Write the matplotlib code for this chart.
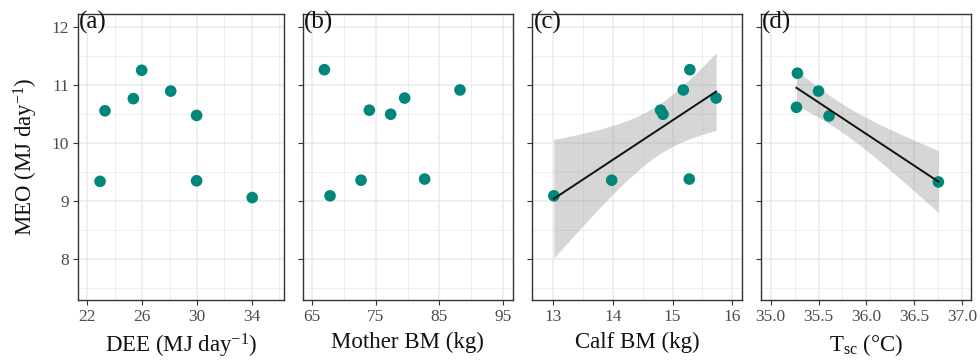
import numpy as np
import matplotlib
matplotlib.use('Agg')
import matplotlib.pyplot as plt
from matplotlib.ticker import MultipleLocator

# Fonte serifada (estilo Times) para todo o texto
plt.rcParams['font.family'] = ['Liberation Serif', 'DejaVu Serif']
plt.rcParams['mathtext.fontset'] = 'custom'
plt.rcParams['mathtext.rm'] = 'Liberation Serif'
plt.rcParams['mathtext.it'] = 'Liberation Serif:italic'

# Dados: MEO (MJ/dia) contra cada preditor
dee = [22.93, 23.29, 25.36, 25.97, 28.09, 29.98, 29.98, 34.04]
meo_dee = [9.34, 10.56, 10.77, 11.26, 10.90, 10.48, 9.35, 9.06]

mother_bm = [66.98, 67.87, 72.72, 74.02, 77.36, 79.55, 82.68, 88.21]
meo_mother = [11.27, 9.09, 9.36, 10.57, 10.50, 10.78, 9.38, 10.92]

calf_bm = [13.01, 13.98, 14.80, 14.84, 15.18, 15.29, 15.28, 15.73]
meo_calf = [9.09, 9.36, 10.57, 10.50, 10.92, 11.27, 9.38, 10.78]

tsc = [35.28, 35.27, 35.50, 35.61, 36.75]
meo_tsc = [11.21, 10.62, 10.90, 10.47, 9.33]

# Quantil normal para a banda de 95%
z = 1.96

cor_ponto = '#00877A'


def ajustar_lm(x, y):
    """Ajuste linear com banda de confiança de 95% da média."""
    x = np.asarray(x)
    y = np.asarray(y)
    n = len(x)
    b1, b0 = np.polyfit(x, y, 1)
    resid = y - (b0 + b1 * x)
    s = np.sqrt(np.sum(resid ** 2) / (n - 2))
    sxx = np.sum((x - x.mean()) ** 2)
    xs = np.linspace(x.min(), x.max(), 100)
    yhat = b0 + b1 * xs
    se = s * np.sqrt(1 / n + (xs - x.mean()) ** 2 / sxx)
    return xs, yhat, yhat - z * se, yhat + z * se


def estilo_painel(ax, xlim, xmaior, xoff, xmenor, xfmt):
    ax.set_xlim(*xlim)
    ax.set_ylim(7.29, 12.23)
    ax.xaxis.set_major_locator(MultipleLocator(xmaior, offset=xoff))
    ax.xaxis.set_minor_locator(MultipleLocator(xmenor, offset=xoff))
    ax.yaxis.set_major_locator(MultipleLocator(1))
    ax.yaxis.set_minor_locator(MultipleLocator(0.5))
    ax.xaxis.set_major_formatter(xfmt)
    ax.grid(which='major', color='#EBEBEB', lw=1.1, zorder=0)
    ax.grid(which='minor', color='#EBEBEB', lw=0.6, zorder=0)
    ax.set_axisbelow(True)
    for sp in ax.spines.values():
        sp.set_color('#333333')
        sp.set_linewidth(1.0)
    ax.tick_params(which='major', length=3.5, width=0.8, color='#333333',
                   labelcolor='#4D4D4D', labelsize=12.5, pad=3)
    ax.tick_params(which='minor', length=0)


fig = plt.figure(figsize=(9.8, 3.6), dpi=100)
base, altura = 0.1667, 0.794
posicoes = [(0.0796, 0.2102), (0.3089, 0.2143), (0.5432, 0.2137), (0.7765, 0.2143)]
axs = [fig.add_axes([l, base, w, altura]) for l, w in posicoes]

paineis = [
    (dee, meo_dee, (21.32, 36.36), 4, 2, 2, '{x:.0f}', r'DEE (MJ day$^{-1}$)', False),
    (mother_bm, meo_mother, (63.59, 96.47), 10, 5, 5, '{x:.0f}', 'Mother BM (kg)', False),
    (calf_bm, meo_calf, (12.65, 16.16), 1, 0, 0.5, '{x:.0f}', 'Calf BM (kg)', True),
    (tsc, meo_tsc, (34.90, 37.09), 0.5, 0, 0.25, '{x:.1f}', r'T$_{\rm sc}$ (°C)', True),
]
letras = ['(a)', '(b)', '(c)', '(d)']

for ax, (x, y, xlim, xmaior, xoff, xmenor, fmt, rotulo, com_lm), letra in zip(axs, paineis, letras):
    estilo_painel(ax, xlim, xmaior, xoff, xmenor, fmt)
    if com_lm:
        xs, yhat, inf, sup = ajustar_lm(x, y)
        ax.fill_between(xs, inf, sup, color='#999999', alpha=0.4, lw=0, zorder=2)
        ax.plot(xs, yhat, color='#111111', lw=1.4, zorder=4)
    ax.scatter(x, y, s=70, color=cor_ponto, edgecolors='none', zorder=3)
    ax.set_xlabel(rotulo, fontsize=16.5, labelpad=5, color='#111111')
    ax.text(0.005, 1.01, letra, transform=ax.transAxes, ha='left', va='top',
            fontsize=18, color='#111111')

axs[0].set_ylabel(r'MEO (MJ day$^{-1}$)', fontsize=16.5, labelpad=8, color='#111111')
for ax in axs[1:]:
    ax.tick_params(axis='y', labelleft=False)

fig.savefig('out.png', dpi=100)
